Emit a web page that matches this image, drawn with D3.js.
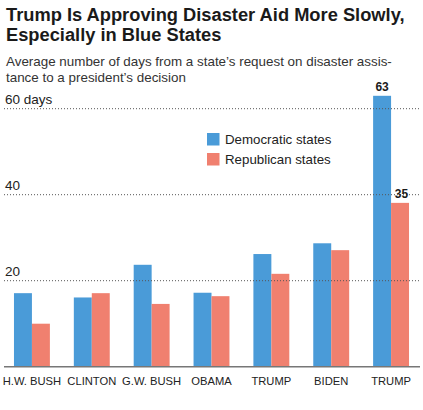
<!DOCTYPE html>
<html>
<head>
<meta charset="utf-8">
<script src="https://cdn.jsdelivr.net/npm/d3@7"></script>
<style>
  body { margin: 0; background: #fff; }
  svg text { font-family: "Liberation Sans", Arial, sans-serif; fill: #1a1a1a; }
</style>
</head>
<body>
<svg id="chart" width="423" height="410"></svg>
<script>
var presidents = ["H.W. BUSH", "CLINTON", "G.W. BUSH", "OBAMA", "TRUMP", "BIDEN", "TRUMP"];
var demDays = [17.1, 16.1, 23.7, 17.2, 26.2, 28.7, 63];
var repDays = [10, 17.1, 14.6, 16.4, 21.6, 27.1, 38.1];
var lastLabels = ["63", "35"];
var tickValues = [20, 40, 60];
var tickLabels = ["20", "40", "60 days"];
var seriesNames = ["Democratic states", "Republican states"];
var colors = ["#4a9bd8", "#f0806f"];

var svg = d3.select("#chart");

// titles
svg.append("text").attr("x", 6).attr("y", 21)
    .attr("font-size", 18.3).attr("font-weight", "bold")
    .text("Trump Is Approving Disaster Aid More Slowly,");
svg.append("text").attr("x", 6).attr("y", 41)
    .attr("font-size", 18.3).attr("font-weight", "bold")
    .text("Especially in Blue States");
svg.append("text").attr("x", 6).attr("y", 66)
    .attr("font-size", 13.4).style("fill", "#333")
    .text("Average number of days from a state\u2019s request on disaster assis-");
svg.append("text").attr("x", 6).attr("y", 82)
    .attr("font-size", 13.4).style("fill", "#333")
    .text("tance to a president\u2019s decision");

var x0 = d3.scaleBand()
    .domain(d3.range(presidents.length))
    .range([2, 421])
    .paddingInner(0.4)
    .paddingOuter(0.2);

var x1 = d3.scaleBand()
    .domain([0, 1])
    .range([0, x0.bandwidth()]);

var y = d3.scaleLinear()
    .domain([0, 60])
    .range([366.7, 108.7]);

var rows = presidents.map(function (p, i) {
    return {i: i, name: p, vals: [demDays[i], repDays[i]]};
});

// bars
var groups = svg.append("g").selectAll("g")
    .data(rows)
    .enter()
    .append("g")
    .attr("transform", function (d) { return "translate(" + x0(d.i) + ",0)"; });

groups.selectAll("rect")
    .data(function (d) { return d.vals.map(function (v, k) { return {k: k, v: v}; }); })
    .enter()
    .append("rect")
    .attr("x", function (d) { return x1(d.k); })
    .attr("width", x1.bandwidth())
    .attr("y", function (d) { return y(d.v); })
    .attr("height", function (d) { return y(0) - y(d.v); })
    .attr("fill", function (d) { return colors[d.k]; });

// gridlines on top of bars
var grid = svg.append("g");
grid.selectAll("line")
    .data(tickValues)
    .enter()
    .append("line")
    .attr("x1", 4).attr("x2", 420)
    .attr("y1", function (d) { return y(d); })
    .attr("y2", function (d) { return y(d); })
    .attr("stroke", "#555")
    .attr("stroke-width", 1)
    .attr("stroke-dasharray", "1,2");
grid.selectAll("text")
    .data(tickValues)
    .enter()
    .append("text")
    .attr("x", 5)
    .attr("y", function (d) { return y(d) - 4.5; })
    .attr("font-size", 13.5)
    .style("fill", "#222")
    .text(function (d, i) { return tickLabels[i]; });

// baseline
svg.append("line")
    .attr("x1", 4).attr("x2", 420)
    .attr("y1", y(0)).attr("y2", y(0))
    .attr("stroke", "#777").attr("stroke-width", 1.5);

// category labels
svg.append("g").selectAll("text")
    .data(rows)
    .enter()
    .append("text")
    .attr("x", function (d) { return x0(d.i) + x0.bandwidth() / 2; })
    .attr("y", 385)
    .attr("text-anchor", "middle")
    .attr("font-size", 11.2)
    .style("fill", "#222")
    .text(function (d) { return d.name; });

// value labels on the last pair
var last = rows.length - 1;
lastLabels.forEach(function (lab, k) {
    svg.append("text")
        .attr("x", x0(last) + x1(k) + x1.bandwidth() / 2 + (k === 1 ? 1.5 : 0))
        .attr("y", y(rows[last].vals[k]) - 5)
        .attr("text-anchor", "middle")
        .attr("font-size", 12)
        .attr("font-weight", "bold")
        .text(lab);
});

// legend
var legend = svg.append("g").attr("transform", "translate(207,133)");
seriesNames.forEach(function (name, k) {
    legend.append("rect")
        .attr("x", 0).attr("y", k * 20)
        .attr("width", 12.5).attr("height", 12.5)
        .attr("fill", colors[k]);
    legend.append("text")
        .attr("x", 18).attr("y", k * 20 + 11)
        .attr("font-size", 13.3)
        .style("fill", "#222")
        .text(name);
});
</script>
</body>
</html>
